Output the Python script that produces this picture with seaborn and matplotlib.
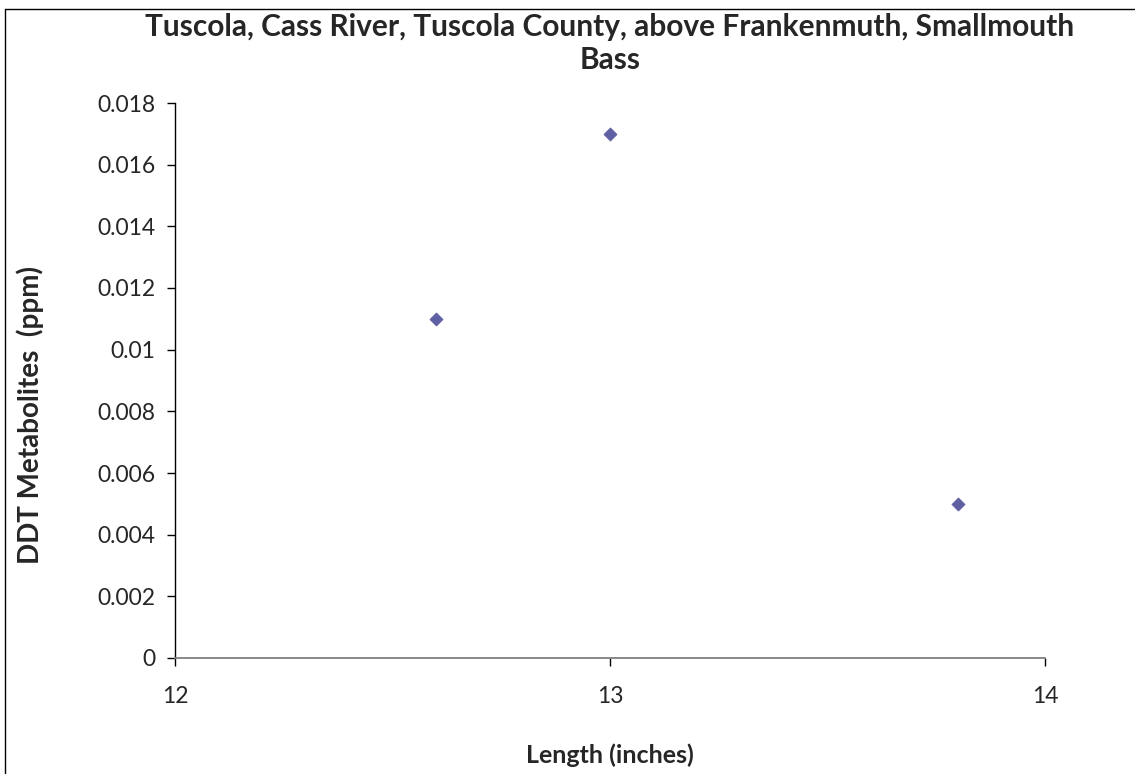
import matplotlib
matplotlib.use("Agg")
import matplotlib.pyplot as plt
import seaborn as sns
import pandas as pd
from matplotlib.lines import Line2D

length_in = [12.6, 13.0, 13.8]
ddt_ppm = [0.011, 0.017, 0.005]
x_ticks = [12, 13, 14]
y_ticks = [0, 0.002, 0.004, 0.006, 0.008, 0.01, 0.012, 0.014, 0.016, 0.018]
y_tick_labels = ["0", "0.002", "0.004", "0.006", "0.008", "0.01", "0.012", "0.014", "0.016", "0.018"]

sns.set_style("white")
plt.rcParams['font.family'] = ['Lato', 'DejaVu Sans']

df = pd.DataFrame({"len": length_in, "ddt": ddt_ppm})

fig = plt.figure(figsize=(11.35, 7.74), dpi=100)
ax = fig.add_axes([175/1135, 1-658/774, (1045-175)/1135, (658-103)/774])

sns.scatterplot(data=df, x="len", y="ddt", ax=ax, marker="D", s=45,
                color="#5F5FA3", edgecolor="#5F5FA3", linewidth=0.5, zorder=3)

ax.set_xlim(12, 14)
ax.set_ylim(0, 0.018)
ax.set_xticks(x_ticks)
ax.set_xticklabels([str(t) for t in x_ticks], fontsize=16.5)
ax.set_yticks(y_ticks)
ax.set_yticklabels(y_tick_labels, fontsize=16.5)
ax.tick_params(axis="both", direction="out", length=6, width=1, color="black",
               bottom=True, left=True, pad=8)
ax.tick_params(axis="x", pad=14)

for s in ["top", "right"]:
    ax.spines[s].set_visible(False)
ax.spines["left"].set_color("black")
ax.spines["left"].set_linewidth(1)
ax.spines["bottom"].set_color("#808080")
ax.spines["bottom"].set_linewidth(1.3)

ax.set_xlabel("Length (inches)", fontsize=18, fontweight="bold")
ax.set_ylabel("DDT Metabolites  (ppm)", fontsize=20, fontweight="bold")
ax.xaxis.set_label_coords(0.5, -(743-658)/555)
ax.yaxis.set_label_coords(-(175-44)/870, (658-415)/555)

fig.text(610/1135, 1-27/774, "Tuscola, Cass River, Tuscola County, above Frankenmuth, Smallmouth",
         ha="center", va="center", fontsize=21.5, fontweight="bold")
fig.text(610/1135, 1-60/774, "Bass", ha="center", va="center", fontsize=21.5, fontweight="bold")

# figure frame (top and left edges visible)
fig.add_artist(Line2D([5/1135, 5/1135], [0, 1-9/774], transform=fig.transFigure, color="black", lw=1))
fig.add_artist(Line2D([5/1135, 1], [1-9/774, 1-9/774], transform=fig.transFigure, color="black", lw=1))

fig.savefig("out.png", dpi=100)
